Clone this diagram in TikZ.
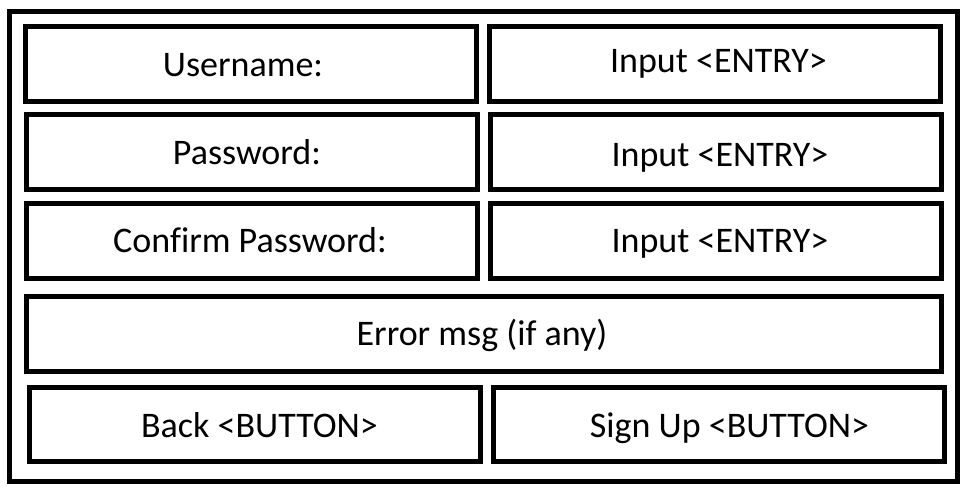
\documentclass[tikz,border=0pt]{standalone}
\usepackage{fontspec}
\setmainfont[Ligatures=NoCommon]{Carlito}
\usepackage{tikz}

\tikzset{
  box/.style={draw, line width=5pt, minimum width=451pt, minimum height=75pt, inner sep=0pt},
  txt/.style={anchor=base, inner sep=0pt, font=\fontsize{36}{42}\selectfont},
}

\begin{document}
\begin{tikzpicture}[x=1pt, y=-1pt]
  \useasboundingbox (0,0) rectangle (967,493);
  \node[box, minimum width=948pt, minimum height=470pt] (frame) at (483.5,246.5) {};
  \node[box] (user) at (251,64) {};
  \node[box] (userin) at (715,64) {};
  \node[box] (pass) at (252,152) {};
  \node[box] (passin) at (716,152) {};
  \node[box] (conf) at (252,241) {};
  \node[box] (confin) at (716,241) {};
  \node[box, minimum width=915pt] (err) at (484,334) {};
  \node[box, minimum height=74pt] (back) at (255,424.5) {};
  \node[box, minimum height=74pt] (signup) at (719,424.5) {};
  \node[txt] (userlbl) at (243,76) {Username:};
  \node[txt] (userinlbl) at (718.5,72) {Input <ENTRY>};
  \node[txt] (passlbl) at (247,164) {Password:};
  \node[txt] (passinlbl) at (720,166) {Input <ENTRY>};
  \node[txt] (conflbl) at (250,252) {Confirm Password:};
  \node[txt] (confinlbl) at (720,252) {Input <ENTRY>};
  \node[txt] (errlbl) at (482,345) {Error msg (if any)};
  \node[txt] (backlbl) at (259.5,437) {Back <BUTTON>};
  \node[txt] (signuplbl) at (729.5,437) {Sign Up <BUTTON>};
\end{tikzpicture}
\end{document}
